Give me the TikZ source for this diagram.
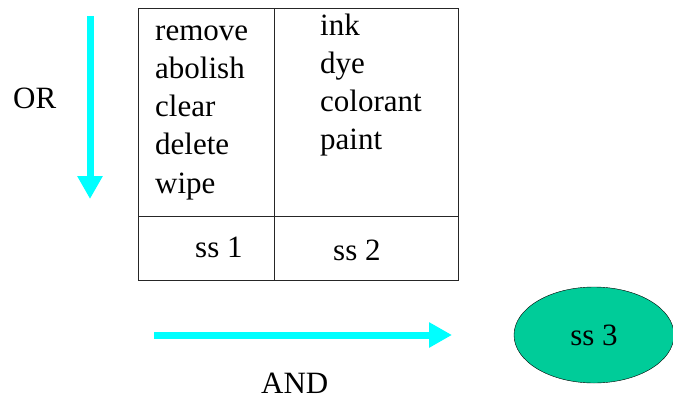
\documentclass[tikz,border=0pt]{standalone}
\usepackage{fontspec}
\setmainfont{Liberation Serif}
\newfontfamily\timesfont{Liberation Serif}
\usetikzlibrary{arrows.meta,shapes.geometric}
\definecolor{seagreen}{HTML}{00CC99}
\definecolor{brightcyan}{HTML}{00FFFF}

\begin{document}
\begin{tikzpicture}[x=1pt,y=-1pt,
  word/.style={anchor=base west,inner sep=0pt,font=\timesfont\fontsize{31}{38}\selectfont},
  fatarrow/.style={line width=7pt,brightcyan,-{Triangle[length=23pt,width=24pt]}},
  grid/.style={line width=1pt,black!85}]
\useasboundingbox (0,0) rectangle (673,400);
\draw[grid] (138,8) rectangle (458,280);
\draw[grid] (274,8) -- (274,280);
\draw[grid] (138,216) -- (458,216);
\foreach \w [count=\i] in {remove,abolish,clear,delete,wipe}
  \node[word] (left\i) at (155,1.7+38.3*\i) {\w};
\foreach \w [count=\i] in {ink,dye,colorant,paint}
  \node[word] (right\i) at (320,-3+38*\i) {\w};
\node[word] (ss1) at (195,257) {ss 1};
\node[word] (ss2) at (333,260) {ss 2};
\node[word] (or) at (13,108) {OR};
\node[word] (and) at (261,393) {AND};
\node[ellipse,draw,fill=seagreen,minimum width=160pt,minimum height=96pt,inner sep=0pt,
  font=\timesfont\fontsize{31}{38}\selectfont] (ss3) at (594,335) {ss 3};
\coordinate (ortop) at (90,16);
\coordinate (orend) at (90,199);
\coordinate (andstart) at (154,335);
\coordinate (andend) at (452,335);
\draw[fatarrow] (ortop) -- (orend);
\draw[fatarrow] (andstart) -- (andend);
\end{tikzpicture}
\end{document}
